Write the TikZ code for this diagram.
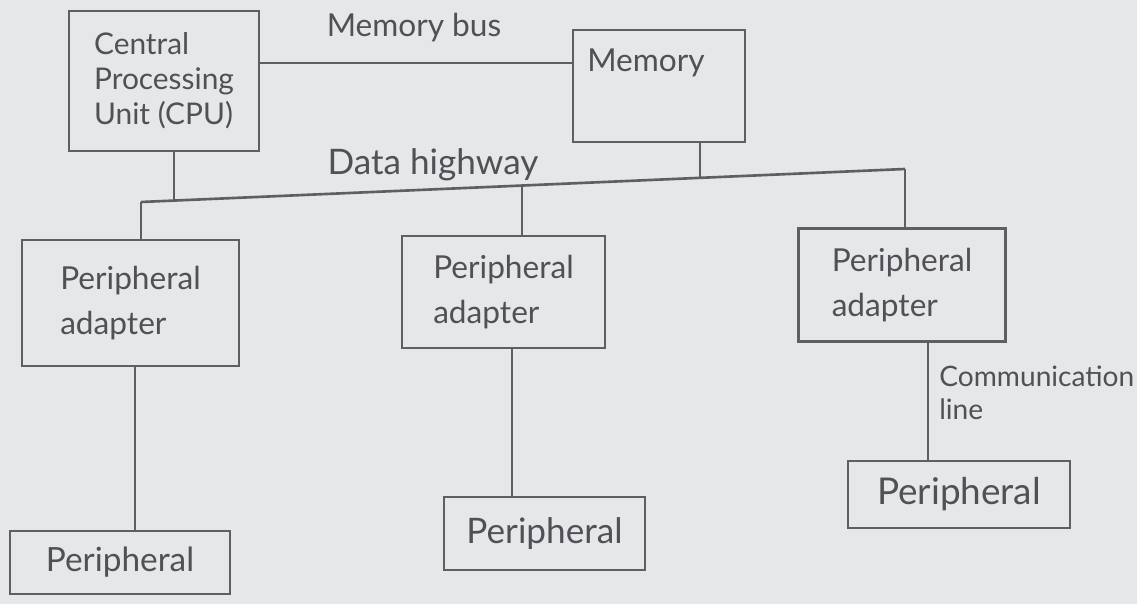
\documentclass[tikz,border=0pt]{standalone}
\usepackage{fontspec}
\setmainfont{Lato}
\definecolor{paper}{RGB}{229,231,232}
\definecolor{pencil}{RGB}{95,95,98}
\definecolor{ink}{RGB}{80,80,86}
\tikzset{
  box/.style={draw=pencil, line width=1.6pt, rectangle, inner sep=0pt},
  wire/.style={draw=pencil, line width=1.5pt},
  hand/.style={text=ink, font=\fontsize{18}{26}\selectfont, align=left, inner sep=0pt},
}
\begin{document}
\begin{tikzpicture}[x=0.02cm,y=-0.02cm]
\fill[paper] (0,0) rectangle (1137,604);
\useasboundingbox (0,0) rectangle (1137,604);

% boxes
\node[box, hand, font=\fontsize{17}{20}\selectfont, minimum width=3.8cm, minimum height=2.8cm] (cpu) at (164,81) {Central\\Processing\\Unit (CPU)};
\node[box, minimum width=3.44cm, minimum height=2.24cm] (mem) at (659,86) {};
\node[hand] (memtext) at (646,63) {Memory};

\node[box, hand, minimum width=4.34cm, minimum height=2.52cm] (pa1) at (130.5,303) {Peripheral\\adapter};
\node[box, hand, minimum width=4.06cm, minimum height=2.24cm] (pa2) at (503.5,292) {Peripheral\\adapter};
\node[box, hand, minimum width=4.14cm, minimum height=2.26cm] (pa3) at (902,285) {Peripheral\\adapter};

\node[box, hand, font=\fontsize{19}{22}\selectfont, minimum width=4.4cm, minimum height=1.26cm] (p1) at (120,562.5) {Peripheral};
\node[box, hand, font=\fontsize{20}{22}\selectfont, minimum width=4.02cm, minimum height=1.46cm] (p2) at (544.5,533.5) {Peripheral};
\node[box, hand, font=\fontsize{21}{22}\selectfont, minimum width=4.44cm, minimum height=1.34cm] (p3) at (959,494.5) {Peripheral};

% labels
\node[hand] (mbuslabel) at (414,28) {Memory bus};
\node[hand, font=\fontsize{20}{24}\selectfont] (hwlabel) at (433,165) {Data highway};
\node[hand, font=\fontsize{16}{19}\selectfont, anchor=west] (commlabel) at (939,393) {Communication\\line};

% memory bus
\coordinate (mbus) at (0,63);
\draw[wire] (cpu.east |- mbus) -- (mem.west |- mbus);

% data highway
\coordinate (hwL) at (141,202);
\coordinate (hwR) at (905,169);
\draw[wire] (hwL) -- (hwR);
\coordinate (jcpu) at (174,200.6);
\coordinate (jmem) at (700,177.9);
\coordinate (jpa2) at (522,185.5);
\draw[wire] (cpu.south -| jcpu) -- (jcpu);
\draw[wire] (mem.south -| jmem) -- (jmem);
\draw[wire] (hwL) -- (pa1.north -| hwL);
\draw[wire] (jpa2) -- (pa2.north -| jpa2);
\draw[wire] (hwR) -- (pa3.north -| hwR);

% adapter to peripheral
\coordinate (d1) at (135,0);
\coordinate (d2) at (512,0);
\coordinate (d3) at (928,0);
\draw[wire] (pa1.south -| d1) -- (p1.north -| d1);
\draw[wire] (pa2.south -| d2) -- (p2.north -| d2);
\draw[wire] (pa3.south -| d3) -- (p3.north -| d3);
\end{tikzpicture}
\end{document}
